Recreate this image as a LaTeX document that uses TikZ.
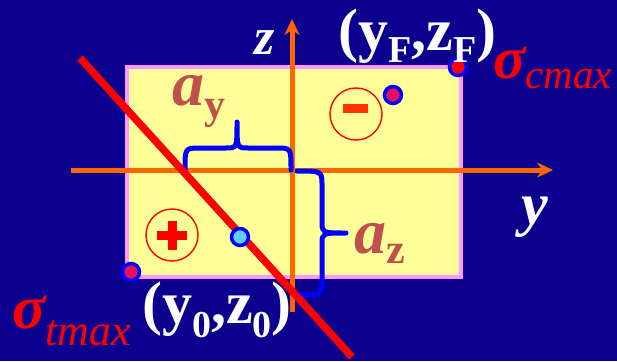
\documentclass[tikz,border=0pt]{standalone}
\usepackage{fontspec}
\setmainfont{Liberation Serif}
\usetikzlibrary{arrows.meta,shapes.geometric}
\definecolor{bgblue}{RGB}{12,0,142}
\definecolor{paleyellow}{RGB}{255,255,153}
\definecolor{pinkedge}{RGB}{255,153,255}
\definecolor{axisorange}{RGB}{255,102,0}
\definecolor{brownlbl}{RGB}{192,80,77}
\definecolor{crimsondot}{RGB}{230,16,90}
\definecolor{lightbluedot}{RGB}{102,204,255}
\definecolor{minusorange}{RGB}{255,51,0}
\newcommand\fsz[1]{\fontsize{#1}{#1}\selectfont}
\tikzset{
  axis/.style={draw=axisorange, line width=5pt, -{Stealth[length=16pt,width=15pt]}},
  bracep/.style={draw=blue, line width=5pt, line cap=round, line join=round},
  dotnode/.style={circle, draw=blue, line width=3.5pt, minimum size=17pt, inner sep=0pt},
  signring/.style={ellipse, draw=red, line width=1.4pt, minimum width=52pt, minimum height=52pt, inner sep=0pt},
  lbl/.style={inner sep=0pt, anchor=base west},
}
\begin{document}
\begin{tikzpicture}[x=1pt,y=-1pt]
\fill[bgblue] (0,0) rectangle (617,361);
\useasboundingbox (0,0) rectangle (617,361);
% section
\node[draw=pinkedge, fill=paleyellow, line width=3.5pt, minimum width=334pt, minimum height=210pt, inner sep=0pt, anchor=north west] (sec) at (125,65) {};
% sign rings
\node[signring] (minusring) at (356,114) {};
\fill[minusorange] (343,104) rectangle (368,113);
\node[signring] (plusring) at (172,235) {};
\fill[red] (157,231) rectangle (187,240);
\fill[red] (167.5,221) rectangle (176.5,250);
% axes
\coordinate (yaxS) at (71,170);
\coordinate (yaxE) at (553,170);
\coordinate (zaxS) at (292,312);
\coordinate (zaxE) at (292,19);
\draw[axis] (yaxS) -- (yaxE);
\draw[axis] (zaxS) -- (zaxE);
% braces
\draw[bracep] (185,170) .. controls (185,148) .. (200,148) -- (226,148) .. controls (237,148) .. (237,122) .. controls (237,148) .. (248,148) -- (277,148) .. controls (291,148) .. (291,170);
\draw[bracep] (297,171) .. controls (322,171) .. (322,186) -- (322,222) .. controls (322,233) .. (346,233) .. controls (322,233) .. (322,244) -- (322,281) .. controls (322,295) .. (297,295);
% neutral line
\coordinate (nlS) at (80,58);
\coordinate (nlE) at (352,357);
\draw[red, line width=7.5pt] (nlS) -- (nlE);
% dots
\node[dotnode, fill=red] (dF) at (458,67) {};
\node[dotnode, fill=crimsondot] (dm) at (393,95) {};
\node[dotnode, fill=crimsondot] (d0) at (131,272) {};
\node[dotnode, fill=lightbluedot] (dl) at (240,237) {};
% labels
\node[lbl, text=white] (zl) at (254,55) {\fsz{52}\bfseries\itshape z};
\node[lbl, text=white] (yl) at (521,224) {\fsz{60}\bfseries\itshape y};
\node[lbl, text=brownlbl] (ayl) at (172,105) {\fsz{64}\bfseries\itshape a\raisebox{-13pt}{\fsz{42}\upshape y}};
\node[lbl, text=brownlbl] (azl) at (354,253) {\fsz{64}\bfseries\itshape a\raisebox{-10pt}{\fsz{42}\upshape z}};
\node[lbl, text=white] (cFl) at (338,50) {\fsz{60}\bfseries (y\raisebox{-13pt}{\fsz{38}F},z\raisebox{-13pt}{\fsz{38}F})};
\node[lbl, text=white] (c0l) at (142,323) {\fsz{60}\bfseries (y\raisebox{-14pt}{\fsz{38}0},z\raisebox{-14pt}{\fsz{38}0})};
\node[lbl, text=red] (scl) at (493,78) {\fsz{60}\bfseries\itshape σ\raisebox{-10pt}{\fsz{41}\mdseries cmax}};
\node[lbl, text=red] (stl) at (12,328) {\fsz{62}\bfseries\itshape σ\raisebox{-17pt}{\fsz{44}\mdseries tmax}};
\end{tikzpicture}
\end{document}
